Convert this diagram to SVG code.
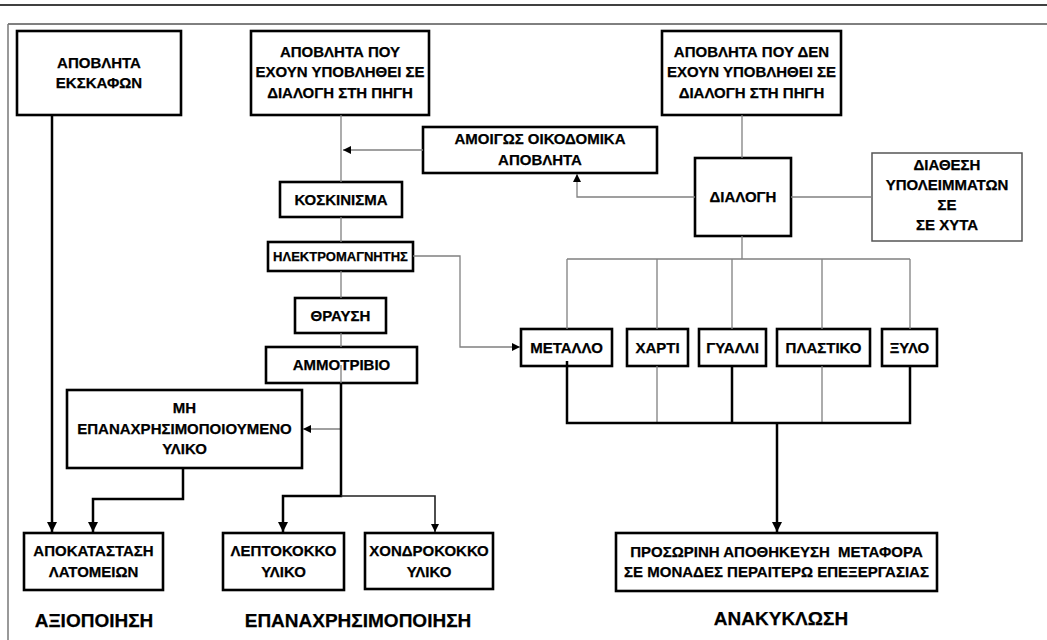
<svg xmlns="http://www.w3.org/2000/svg" width="1047" height="640" viewBox="0 0 1047 640">
<style>
.bx{fill:#fff;stroke:#000;stroke-width:2.6}
.bt{fill:#fff;stroke:#555;stroke-width:1.5}
.t{font-family:"Liberation Sans",Arial,sans-serif;font-weight:bold;font-size:15px;fill:#000;stroke:#000;stroke-width:0.25;text-anchor:middle}
.s{font-size:13px}
.h{font-size:19px}
.g{fill:none;stroke:#808080;stroke-width:1.3}
.k{fill:none;stroke:#000;stroke-width:2.5}
.m{fill:none;stroke:#222;stroke-width:1.6}
</style>
<defs>
<marker id="ab" viewBox="0 0 10 10" refX="10" refY="5" markerUnits="userSpaceOnUse" markerWidth="13" markerHeight="10" orient="auto"><path d="M0,0L10,5L0,10z" fill="#000"/></marker>
<marker id="as" viewBox="0 0 10 10" refX="10" refY="5" markerUnits="userSpaceOnUse" markerWidth="9" markerHeight="8" orient="auto"><path d="M0,0L10,5L0,10z" fill="#000"/></marker>
</defs>
<rect width="1047" height="640" fill="#fff"/>
<g id="frame">
<line x1="0" y1="5" x2="1047" y2="5" stroke="#000" stroke-width="1.5"/>
<line x1="8" y1="24" x2="1047" y2="24" stroke="#000" stroke-width="1"/>
<line x1="8" y1="24" x2="8" y2="640" stroke="#777" stroke-width="1.5"/>
</g>
<g id="n-ekskafon"><rect class="bx" x="17" y="31" width="164" height="84"/><text class="t" x="99" y="68">ΑΠΟΒΛΗΤΑ</text><text class="t" x="99" y="88">ΕΚΣΚΑΦΩΝ</text></g>
<g id="n-sorted"><rect class="bx" x="251" y="31" width="178" height="84"/><text class="t" x="340" y="57">ΑΠΟΒΛΗΤΑ ΠΟΥ</text><text class="t" x="340" y="77">ΕΧΟΥΝ ΥΠΟΒΛΗΘΕΙ ΣΕ</text><text class="t" x="340" y="98">ΔΙΑΛΟΓΗ ΣΤΗ ΠΗΓΗ</text></g>
<g id="n-unsorted"><rect class="bx" x="662" y="31" width="179" height="84"/><text class="t" x="751.5" y="57">ΑΠΟΒΛΗΤΑ ΠΟΥ ΔΕΝ</text><text class="t" x="751.5" y="77">ΕΧΟΥΝ ΥΠΟΒΛΗΘΕΙ ΣΕ</text><text class="t" x="751.5" y="98">ΔΙΑΛΟΓΗ ΣΤΗ ΠΗΓΗ</text></g>
<g id="n-amigos"><rect class="bx" x="423" y="127" width="234" height="46"/><text class="t" x="540" y="144">ΑΜΟΙΓΩΣ ΟΙΚΟΔΟΜΙΚΑ</text><text class="t" x="540" y="165">ΑΠΟΒΛΗΤΑ</text></g>
<g id="n-koskinisma"><rect class="bx" x="280" y="182" width="122" height="35"/><text class="t" x="341" y="205">ΚΟΣΚΙΝΙΣΜΑ</text></g>
<g id="n-dialogi"><rect class="bx" x="695" y="158" width="96" height="78"/><text class="t" x="743" y="202">ΔΙΑΛΟΓΗ</text></g>
<g id="n-diathesi"><rect class="bt" x="872" y="153" width="150" height="88"/><text class="t" x="947" y="170">ΔΙΑΘΕΣΗ</text><text class="t" x="947" y="190">ΥΠΟΛΕΙΜΜΑΤΩΝ</text><text class="t" x="947" y="210">ΣΕ</text><text class="t" x="947" y="230">ΣΕ ΧΥΤΑ</text></g>
<g id="n-ilektro"><rect class="bx" x="268" y="242" width="145" height="29"/><text class="t s" x="340.5" y="261">ΗΛΕΚΤΡΟΜΑΓΝΗΤΗΣ</text></g>
<g id="n-thrausi"><rect class="bx" x="295" y="298" width="91" height="35"/><text class="t" x="340.5" y="321">ΘΡΑΥΣΗ</text></g>
<g id="n-ammotrivio"><rect class="bx" x="266" y="347" width="151" height="36"/><text class="t" x="341.5" y="370">ΑΜΜΟΤΡΙΒΙΟ</text></g>
<g id="n-metallo"><rect class="bx" x="521" y="329" width="91" height="37"/><text class="t" x="566.5" y="353">ΜΕΤΑΛΛΟ</text></g>
<g id="n-xarti"><rect class="bx" x="627" y="329" width="61" height="37"/><text class="t" x="657.5" y="353">ΧΑΡΤΙ</text></g>
<g id="n-gyalli"><rect class="bx" x="699" y="329" width="67" height="37"/><text class="t" x="732.5" y="353">ΓΥΑΛΛΙ</text></g>
<g id="n-plastiko"><rect class="bx" x="777" y="329" width="93" height="37"/><text class="t" x="823.5" y="353">ΠΛΑΣΤΙΚΟ</text></g>
<g id="n-xylo"><rect class="bx" x="882" y="329" width="55" height="37"/><text class="t" x="909.5" y="353">ΞΥΛΟ</text></g>
<g id="n-mi"><rect class="bx" x="67" y="390" width="235" height="78"/><text class="t" x="184.5" y="413">ΜΗ</text><text class="t" x="184.5" y="434">ΕΠΑΝΑΧΡΗΣΙΜΟΠΟΙΟΥΜΕΝΟ</text><text class="t" x="184.5" y="454">ΥΛΙΚΟ</text></g>
<g id="n-apokatastasi"><rect class="bx" x="24" y="533" width="139" height="57"/><text class="t" x="93.5" y="556">ΑΠΟΚΑΤΑΣΤΑΣΗ</text><text class="t" x="93.5" y="577">ΛΑΤΟΜΕΙΩΝ</text></g>
<g id="n-leptokokko"><rect class="bx" x="223" y="533" width="121" height="57"/><text class="t" x="283.5" y="556">ΛΕΠΤΟΚΟΚΚΟ</text><text class="t" x="283.5" y="577">ΥΛΙΚΟ</text></g>
<g id="n-xondrokokko"><rect class="bx" x="365" y="533" width="128" height="56"/><text class="t" x="429" y="556">ΧΟΝΔΡΟΚΟΚΚΟ</text><text class="t" x="429" y="577">ΥΛΙΚΟ</text></g>
<g id="n-prosorini"><rect class="bx" x="616" y="533" width="321" height="58"/><text class="t" x="776.5" y="557" style="white-space:pre">ΠΡΟΣΩΡΙΝΗ ΑΠΟΘΗΚΕΥΣΗ  ΜΕΤΑΦΟΡΑ</text><text class="t" x="776.5" y="577">ΣΕ ΜΟΝΑΔΕΣ ΠΕΡΑΙΤΕΡΩ ΕΠΕΞΕΡΓΑΣΙΑΣ</text></g>
<g id="headings">
<text class="t h" x="94" y="627">ΑΞΙΟΠΟΙΗΣΗ</text>
<text class="t h" x="358" y="627">ΕΠΑΝΑΧΡΗΣΙΜΟΠΟΙΗΣΗ</text>
<text class="t h" x="781" y="625">ΑΝΑΚΥΚΛΩΣΗ</text>
</g>
<g id="connectors">
<path class="g" d="M341,115V182"/>
<path class="g" d="M423,150H343" marker-end="url(#as)"/>
<path class="g" d="M341,217V242M341,271V298M341,333V347M341,365V383"/>
<path class="g" d="M413,256H460V347H520" marker-end="url(#as)"/>
<path class="g" d="M742,115V158"/>
<path class="g" d="M695,197H577V174" marker-end="url(#as)"/>
<path class="g" d="M791,197H872"/>
<path class="g" d="M742,236V259M567,259H910M567,259V329M657,259V329M732,259V329M822,259V329M910,259V329"/>
<path class="g" d="M657,366V423M822,366V423"/>
<path class="g" d="M341,429H303" marker-end="url(#as)"/>
<path class="k" d="M341,383V496H283V532" marker-end="url(#ab)"/>
<path class="m" d="M341,496H435V532" marker-end="url(#as)"/>
<path class="k" d="M52,115V532" marker-end="url(#ab)"/>
<path class="k" d="M183,468V499H93V532" marker-end="url(#ab)"/>
<path class="k" d="M567,361V423H910V366M732,366V423"/>
<path class="k" d="M777,423V532" marker-end="url(#ab)"/>
</g>
</svg>
